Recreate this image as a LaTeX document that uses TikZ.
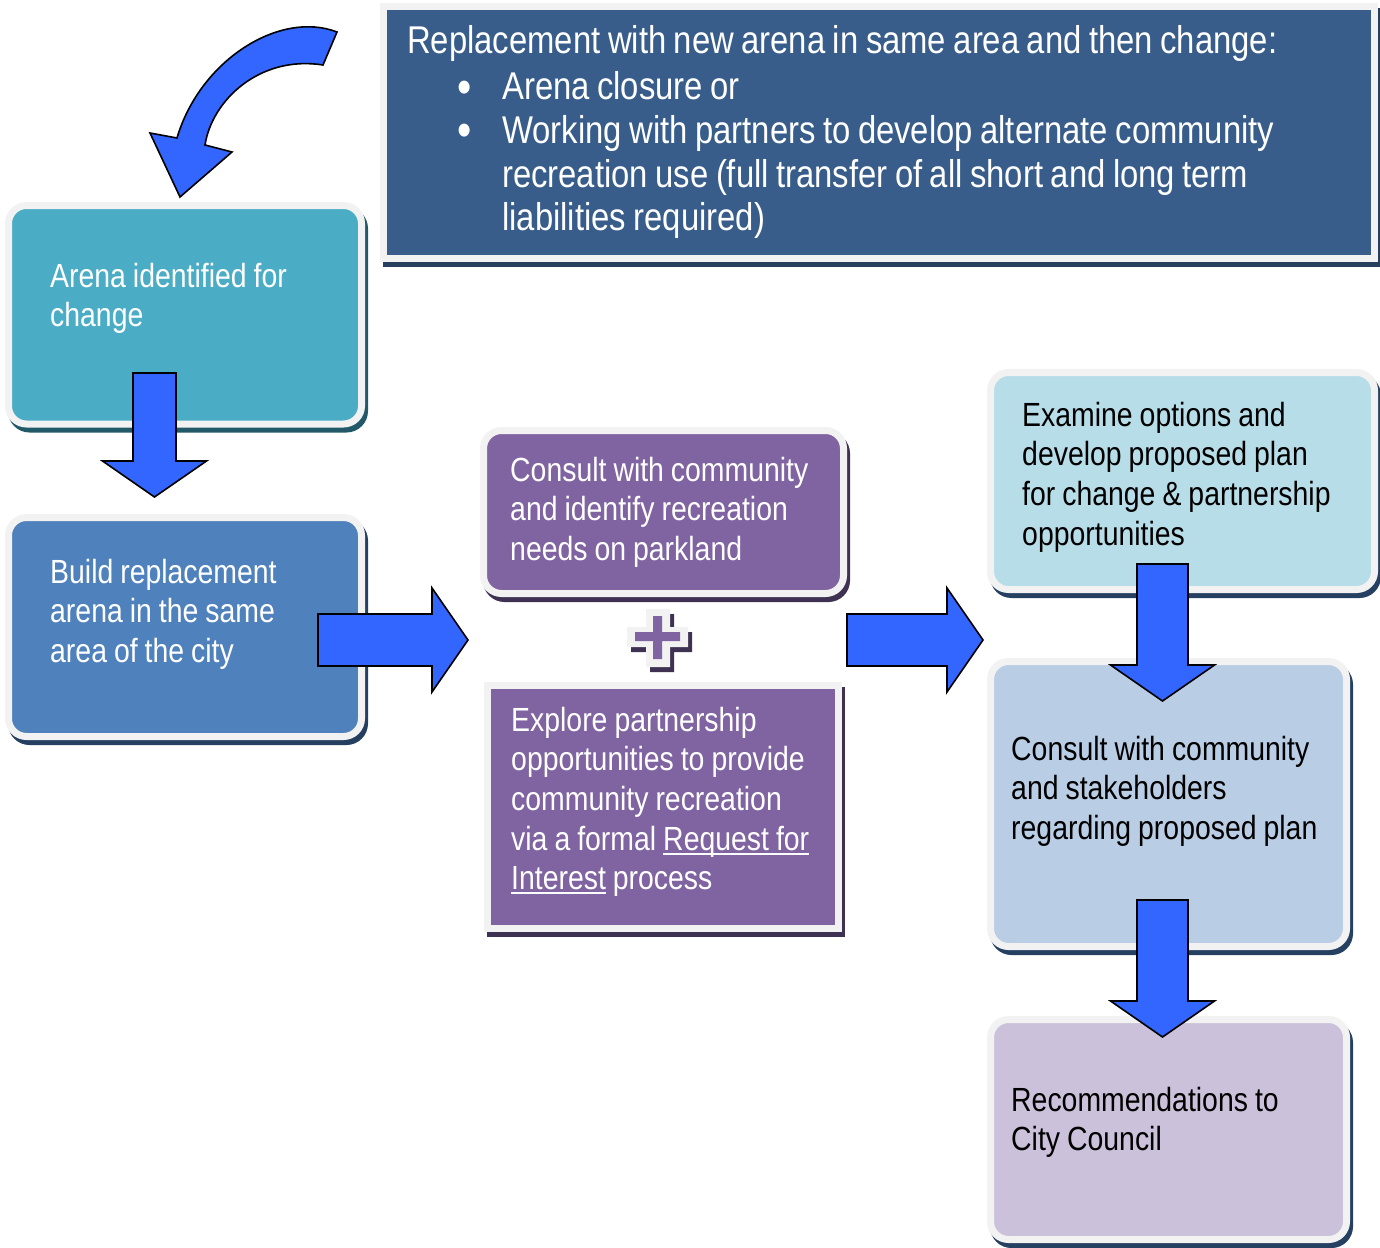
\documentclass[tikz,border=0pt]{standalone}
\usepackage{fontspec}
\setmainfont{Liberation Sans}[FakeStretch=0.848]
\usetikzlibrary{calc}

\definecolor{rimwhite}{HTML}{F2F2F2}
\definecolor{arenateal}{HTML}{4BACC6}
\definecolor{arenashade}{HTML}{215968}
\definecolor{buildblue}{HTML}{4F81BD}
\definecolor{buildshade}{HTML}{243F60}
\definecolor{consultpurple}{HTML}{8064A2}
\definecolor{consultshade}{HTML}{3F3151}
\definecolor{replaceblue}{HTML}{385D8A}
\definecolor{replaceshade}{HTML}{263F5E}
\definecolor{examinecyan}{HTML}{B7DDE8}
\definecolor{stakeblue}{HTML}{B9CDE5}
\definecolor{councillilac}{HTML}{CCC1DA}
\definecolor{planshade}{HTML}{254061}
\definecolor{arrowblue}{HTML}{3366FF}

% underlined phrase, rule a little below the baseline
\newcommand{\rfiline}[1]{\leavevmode\setbox0=\hbox{#1}\rlap{\rule[-4.5pt]{\wd0}{2pt}}\box0\relax}
% list bullet, a bit bigger than the text
\newcommand{\listdot}{\raisebox{-3pt}[0pt][0pt]{\fontsize{48}{0}\selectfont\textbullet}}
% narrow word spaces
\newcommand{\wordgap}[1]{\spaceskip=#1\relax}

% fat block arrow from tail #1 to tip #2, #3 = half shaft width
\newcommand{\arrowlink}[3]{%
	\coordinate (#1-#2) at ($(#2)!36pt!(#1)$);
	\filldraw[blockarrow] ($(#1)!#3!90:(#2)$) -- ($(#1-#2)!#3!-90:(#1)$)
		-- ($(#1-#2)!52pt!-90:(#1)$) -- (#2) -- ($(#1-#2)!52pt!90:(#1)$)
		-- ($(#1-#2)!#3!90:(#1)$) -- ($(#1)!#3!-90:(#2)$) -- cycle;
}

\begin{document}
\begin{tikzpicture}[x=1pt, y=-1pt,
	stagebox/.style={draw=rimwhite, line width=7pt, inner sep=0pt},
	roundbox/.style={stagebox, rounded corners=18pt},
	castshadow/.style={preaction={draw=#1, fill=#1, transform canvas={shift={(3pt,-5pt)}}}},
	stagetext/.style={anchor=base west, inner sep=0pt, align=left, text width=#1,
		font=\fontsize{33.5}{39.7}\selectfont, execute at begin node={\wordgap{7pt}}},
	blockarrow/.style={fill=arrowblue, draw=black, line width=1.6pt, line join=miter}]

	\useasboundingbox (0,0) rectangle (1380,1247);

	%left column
	\node[roundbox, castshadow=arenashade, fill=arenateal, minimum width=353pt, minimum height=218.5pt] (arena) at (185,314.75) {};
	\node[roundbox, castshadow=buildshade, fill=buildblue, minimum width=353pt, minimum height=219pt] (build) at (185,627) {};
	\node[stagetext=320pt, text=white] (arenatext) at (50,287) {Arena identified for\\change};
	\node[stagetext=320pt, text=white] (buildtext) at (50,583) {Build replacement\\arena in the same\\area of the city};

	%top banner
	\node[stagebox, castshadow=replaceshade, fill=replaceblue, minimum width=991pt, minimum height=252pt] (replace) at (879,132.5) {};
	\node[stagetext=960pt, text=white, font=\fontsize{38.7}{43.5}\selectfont, execute at begin node={\wordgap{7.5pt}}] (replacetext) at (407,54)
		{Replacement with new arena in same area and then change:\\[2.5pt]
		\hspace*{95pt}\llap{\listdot\hspace{30pt}}Arena closure or\\
		\hspace*{95pt}\llap{\listdot\hspace{30pt}}Working with partners to develop alternate community\\
		\hspace*{95pt}recreation use (full transfer of all short and long term\\
		\hspace*{95pt}liabilities required)};

	%middle column
	\node[roundbox, castshadow=consultshade, fill=consultpurple, minimum width=360pt, minimum height=163pt] (consult) at (663.5,512) {};
	\node[stagebox, castshadow=consultshade, fill=consultpurple, minimum width=351.5pt, minimum height=243.5pt] (explore) at (662.75,806.75) {};
	\node[stagetext=330pt, text=white] (consulttext) at (510,481) {Consult with community\\and identify recreation\\needs on parkland};
	\node[stagetext=330pt, text=white] (exploretext) at (511,731) {Explore partnership\\opportunities to provide\\community recreation\\via a formal \rfiline{Request for}\\\rfiline{Interest} process};

	%plus sign between the two options
	\fill[consultshade] (650,614) rectangle (674,672) (631,632) rectangle (692,652);
	\fill[rimwhite] (646,609) rectangle (670,667) (627,627) rectangle (688,647);
	\fill[consultpurple] (653,616) rectangle (662,659) (635,632) rectangle (680,641);

	%right column
	\node[roundbox, castshadow=planshade, fill=examinecyan, minimum width=384pt, minimum height=217pt] (examine) at (1182.5,481) {};
	\node[roundbox, castshadow=planshade, fill=stakeblue, minimum width=356pt, minimum height=285pt] (stake) at (1168.5,804) {};
	\node[roundbox, castshadow=planshade, fill=councillilac, minimum width=356pt, minimum height=220pt] (council) at (1168.5,1129.5) {};
	\node[stagetext=350pt] (examinetext) at (1022,426) {Examine options and\\develop proposed plan\\for change \& partnership\\opportunities};
	\node[stagetext=330pt] (staketext) at (1011,760) {Consult with community\\and stakeholders\\regarding proposed plan};
	\node[stagetext=330pt] (counciltext) at (1011,1111) {Recommendations to\\City Council};

	%arrow ends
	\coordinate (arenaout) at (154.5,373);
	\coordinate (buildin) at (154.5,497);
	\coordinate (buildout) at (318,640);
	\coordinate (optionsin) at (468,640);
	\coordinate (optionsout) at (847,640);
	\coordinate (examinein) at (983,640);
	\coordinate (examineout) at (1162.5,564);
	\coordinate (stakein) at (1162.5,701);
	\coordinate (stakeout) at (1162.5,900);
	\coordinate (councilin) at (1162.5,1037);

	\arrowlink{arenaout}{buildin}{21.5pt}
	\arrowlink{buildout}{optionsin}{26pt}
	\arrowlink{optionsout}{examinein}{26pt}
	\arrowlink{examineout}{stakein}{25.5pt}
	\arrowlink{stakeout}{councilin}{25.5pt}

	%curved arrow from the banner into the first box
	\filldraw[blockarrow] (337,32) .. controls (280,10) and (200,60) .. (177,138) -- (150,133) -- (180,197)
		-- (232,152) -- (205,145) .. controls (212,100) and (260,55) .. (323,65) -- cycle;

\end{tikzpicture}
\end{document}
